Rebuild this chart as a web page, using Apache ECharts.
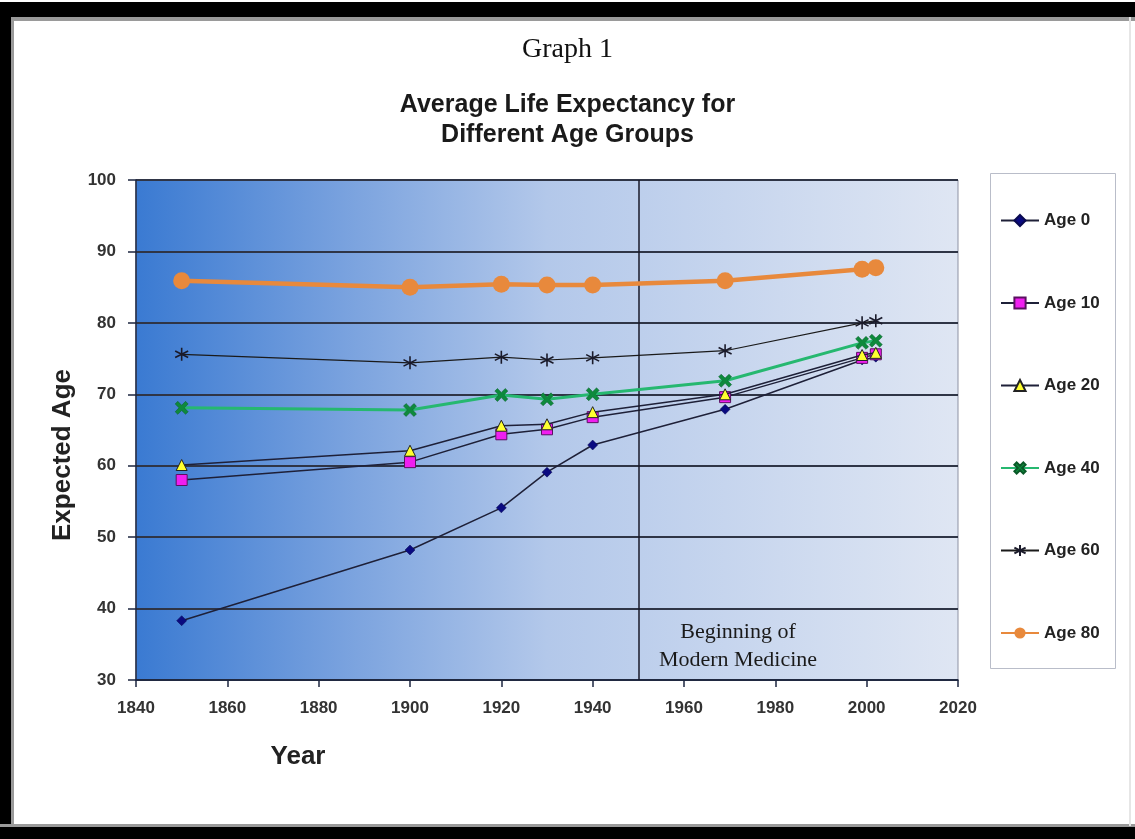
<!DOCTYPE html>
<html>
<head>
<meta charset="utf-8">
<script src="https://cdn.jsdelivr.net/npm/echarts@6/dist/echarts.min.js"></script>
<style>
html,body{margin:0;padding:0;background:#fff;}
#chart{width:1135px;height:839px;}
</style>
</head>
<body>
<div id="chart"></div>
<script>
const years = [1850, 1900, 1920, 1930, 1940, 1969, 1999, 2002];
const age0  = [38.3, 48.2, 54.1, 59.1, 62.9, 67.9, 74.8, 75.2];
const age10 = [58.0, 60.5, 64.4, 65.1, 66.8, 69.6, 75.1, 75.6];
const age20 = [60.1, 62.1, 65.6, 65.8, 67.5, 70.0, 75.5, 75.8];
const age40 = [68.1, 67.8, 69.9, 69.3, 70.0, 71.9, 77.2, 77.5];
const age60 = [75.6, 74.4, 75.2, 74.8, 75.1, 76.1, 80.0, 80.3];
const age80 = [85.9, 85.0, 85.4, 85.3, 85.3, 85.9, 87.5, 87.7];
const seriesNames = ['Age 0', 'Age 10', 'Age 20', 'Age 40', 'Age 60', 'Age 80'];
const xTicks = [1840, 1860, 1880, 1900, 1920, 1940, 1960, 1980, 2000, 2020];
const yTicks = [30, 40, 50, 60, 70, 80, 90, 100];
const modernMedicineYear = 1950;

const pair = arr => years.map((y, i) => [y, arr[i]]);
const darkLine = '#1e2038';
const XPATH = 'path://M0,2L2,0L5,3L8,0L10,2L7,5L10,8L8,10L5,7L2,10L0,8L3,5Z';
const STAR = 'path://M5,0L5,10M0.7,2.5L9.3,7.5M9.3,2.5L0.7,7.5';

const chart = echarts.init(document.getElementById('chart'));
const option = {
  backgroundColor: '#ffffff',
  animation: false,
  title: [
    { text: 'Graph 1', left: 'center', top: 31,
      textStyle: { fontFamily: 'Liberation Serif, Times New Roman, serif', fontWeight: 'normal', fontSize: 28, color: '#111' } },
    { text: 'Average Life Expectancy for\nDifferent Age Groups', left: 'center', top: 85,
      textStyle: { fontFamily: 'Liberation Sans, Arial, sans-serif', fontWeight: 'bold', fontSize: 25, lineHeight: 30, color: '#1a1a1a' } }
  ],
  graphic: [
    { type: 'rect', left: 0, top: 2, shape: { width: 1135, height: 15 }, style: { fill: '#000' }, z: 100 },
    { type: 'rect', left: 0, top: 17, shape: { width: 1135, height: 4 }, style: { fill: '#9a9a9a' }, z: 100 },
    { type: 'rect', left: 0, top: 2, shape: { width: 11, height: 837 }, style: { fill: '#000' }, z: 100 },
    { type: 'rect', left: 11, top: 17, shape: { width: 3, height: 809 }, style: { fill: '#9a9a9a' }, z: 100 },
    { type: 'rect', left: 0, top: 824, shape: { width: 1135, height: 3 }, style: { fill: '#9a9a9a' }, z: 100 },
    { type: 'rect', left: 0, top: 827, shape: { width: 1135, height: 12 }, style: { fill: '#000' }, z: 100 },
    { type: 'rect', left: 1129, top: 17, shape: { width: 2, height: 809 }, style: { fill: '#e6e6e6' }, z: 100 },
    { type: 'rect', left: 990, top: 173, shape: { width: 125, height: 495 },
      style: { fill: '#fff', stroke: '#b9bdc9', lineWidth: 1 }, z: 0 },
    { type: 'text', x: 738, y: 646, z: 50,
      style: { text: 'Beginning of\nModern Medicine', fontFamily: 'Liberation Serif, Times New Roman, serif',
        fontSize: 22, lineHeight: 28, fill: '#1a1a1a', align: 'center', verticalAlign: 'middle' } }
  ],
  legend: {
    orient: 'vertical', left: 995, top: 207,
    itemWidth: 38, itemHeight: 14, itemGap: 65.5,
    data: seriesNames,
    textStyle: { fontFamily: 'Liberation Sans, Arial, sans-serif', fontWeight: 'bold', fontSize: 17, color: '#222' }
  },
  grid: {
    left: 136, right: 177, top: 180, bottom: 159, show: true,
    borderColor: '#8d92a3', borderWidth: 1,
    backgroundColor: new echarts.graphic.LinearGradient(0, 0, 1, 0, [
      { offset: 0, color: '#3a7ad2' },
      { offset: 0.25, color: '#78a1de' },
      { offset: 0.5, color: '#b3c8ea' },
      { offset: 1, color: '#dfe6f3' }
    ])
  },
  xAxis: {
    type: 'value', min: xTicks[0], max: xTicks[xTicks.length - 1], interval: 20,
    name: 'Year', nameLocation: 'middle', nameGap: 64,
    nameTextStyle: { fontFamily: 'Liberation Sans, Arial, sans-serif', fontWeight: 'bold', fontSize: 26, color: '#222', padding: [0, 498, 0, 0] },
    axisLine: { show: true, lineStyle: { color: '#1c2640', width: 1.5 } },
    axisTick: { show: true, length: 7, lineStyle: { color: '#1c2640', width: 1.5 } },
    axisLabel: { margin: 20, fontFamily: 'Liberation Sans, Arial, sans-serif', fontWeight: 'bold', fontSize: 17, color: '#333',
      formatter: v => xTicks.includes(v) ? String(v) : '' },
    splitLine: { show: false }
  },
  yAxis: {
    type: 'value', min: yTicks[0], max: yTicks[yTicks.length - 1], interval: 10,
    name: 'Expected Age', nameLocation: 'middle', nameGap: 60, nameRotate: 90,
    nameTextStyle: { fontFamily: 'Liberation Sans, Arial, sans-serif', fontWeight: 'bold', fontSize: 26, color: '#222', padding: [0, 50, 0, 0] },
    axisLine: { show: true, lineStyle: { color: '#1c2640', width: 1.5 } },
    axisTick: { show: true, length: 8, lineStyle: { color: '#1c2640', width: 1.5 } },
    axisLabel: { margin: 20, fontFamily: 'Liberation Sans, Arial, sans-serif', fontWeight: 'bold', fontSize: 17, color: '#333',
      formatter: v => yTicks.includes(v) ? String(v) : '' },
    splitLine: { show: true, lineStyle: { color: '#2f3546', width: 2 } }
  },
  series: [
    { name: 'Age 0', type: 'line', data: pair(age0), symbol: 'diamond', symbolSize: 10,
      lineStyle: { color: darkLine, width: 1.5 },
      itemStyle: { color: '#0a0a80', borderColor: '#0a0a50', borderWidth: 0.5 },
      markLine: { silent: true, symbol: ['none', 'none'], label: { show: false },
        lineStyle: { color: '#1a1a2a', width: 1.5, type: 'solid' },
        data: [{ xAxis: modernMedicineYear }] }, z: 3 },
    { name: 'Age 10', type: 'line', data: pair(age10), symbol: 'rect', symbolSize: 11,
      lineStyle: { color: darkLine, width: 1.5 },
      itemStyle: { color: '#f01ef0', borderColor: '#5a1060', borderWidth: 1 }, z: 3 },
    { name: 'Age 20', type: 'line', data: pair(age20), symbol: 'triangle', symbolSize: 11,
      lineStyle: { color: darkLine, width: 1.5 },
      itemStyle: { color: '#ffff30', borderColor: '#222', borderWidth: 1 }, z: 4 },
    { name: 'Age 40', type: 'line', data: pair(age40), symbol: XPATH, symbolSize: 13,
      lineStyle: { color: '#26b870', width: 3 },
      itemStyle: { color: '#0e8a3c', borderColor: '#0a5a28', borderWidth: 0.5 }, z: 5 },
    { name: 'Age 60', type: 'line', data: pair(age60), symbol: STAR, symbolSize: 13,
      lineStyle: { color: '#1a1a1a', width: 1.2 },
      itemStyle: { color: '#1a1a2a', borderColor: '#1a1a2a', borderWidth: 1.6 }, z: 5 },
    { name: 'Age 80', type: 'line', data: pair(age80), symbol: 'circle', symbolSize: 17,
      lineStyle: { color: '#e8893c', width: 4.5 },
      itemStyle: { color: '#e8893c' }, z: 6 }
  ]
};
chart.setOption(option);
</script>
</body>
</html>
